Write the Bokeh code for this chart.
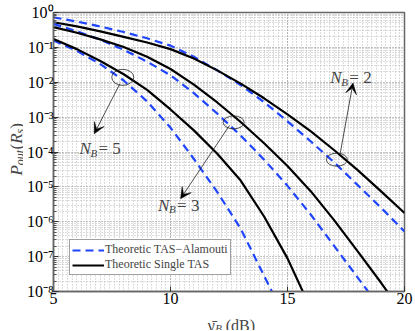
import math
from bokeh.plotting import figure
from bokeh.layouts import row, column
from bokeh.models import (Range1d, FixedTicker, Label, Arrow, VeeHead, Legend,
                          LegendItem, CustomJSTickFormatter)
from bokeh.embed import file_html
from bokeh.resources import INLINE

# ---------------- data ----------------
snr_db = [5, 6, 7, 8, 9, 10, 11, 12, 13, 14, 15, 16, 17, 18, 19, 20]

# log10 of outage probability
nb2_alamouti = [-0.14, -0.26, -0.40, -0.56, -0.74, -0.95, -1.27, -1.66, -2.08, -2.57, -3.12, -3.70, -4.30, -4.95, -5.60, -6.28]
nb2_single   = [-0.28, -0.40, -0.54, -0.70, -0.86, -1.05, -1.32, -1.66, -2.04, -2.46, -2.92, -3.41, -3.95, -4.52, -5.13, -5.75]
nb3_alamouti = [-0.33, -0.54, -0.78, -1.07, -1.41, -1.80, -2.31, -2.90, -3.53, -4.22, -4.97, -5.80, -6.70, -7.60, -8.50, -9.50]
nb3_single   = [-0.42, -0.58, -0.77, -0.99, -1.27, -1.62, -2.07, -2.58, -3.14, -3.75, -4.40, -5.13, -5.96, -6.85, -7.75, -8.70]
nb5_alamouti = [-0.80, -1.10, -1.48, -1.95, -2.55, -3.30, -4.20, -5.15, -6.20, -7.55, -8.90, -10.3, -11.7, -13.1, -14.5, -16.0]
nb5_single   = [-0.76, -1.05, -1.39, -1.77, -2.22, -2.78, -3.38, -4.05, -4.82, -5.85, -7.05, -8.50, -10.0, -11.5, -13.0, -14.5]

x_ticks = [5, 10, 15, 20]
y_decades = [-8, -7, -6, -5, -4, -3, -2, -1, 0]
legend_labels = ["Theoretic TAS\u2212Alamouti", "Theoretic Single TAS"]

SERIF = "Liberation Serif"
BLUE = "#1f45ff"
AXIS_GRAY = "#666666"

# layout geometry (pixels)
TOTAL_H = 330
YSTRIP_W = 23
MAIN_W = 390
LEFT_B, RIGHT_B = 29, 9
TOP_B, FRAME_H, BOT_B = 12, 279, 19
MAIN_H = TOP_B + FRAME_H + BOT_B
XSTRIP_H = TOTAL_H - MAIN_H


def lin(vals):
    return [10.0 ** v for v in vals]


def bare(fig):
    fig.grid.visible = False
    fig.outline_line_color = None
    return fig


# ---------------- main plot ----------------
p = figure(width=MAIN_W, height=MAIN_H, x_range=Range1d(5, 20), y_range=Range1d(1e-8, 1),
           y_axis_type="log", output_backend="svg", toolbar_location=None, title=None,
           min_border_left=LEFT_B, min_border_right=RIGHT_B,
           min_border_top=TOP_B, min_border_bottom=BOT_B)

p.outline_line_color = AXIS_GRAY
p.outline_line_width = 1.5

minor_x = [5 + 0.2 * i for i in range(76)]
p.xaxis.ticker = FixedTicker(ticks=x_ticks, minor_ticks=minor_x)
minor_y = [k * 10.0 ** d for d in y_decades[:-1] for k in range(2, 10)]
p.yaxis.ticker = FixedTicker(ticks=[10.0 ** d for d in y_decades], minor_ticks=minor_y)
p.yaxis.formatter = CustomJSTickFormatter(code="""
const sup = {'-':'\u207b','0':'\u2070','1':'\u00b9','2':'\u00b2','3':'\u00b3','4':'\u2074',
             '5':'\u2075','6':'\u2076','7':'\u2077','8':'\u2078','9':'\u2079'};
const e = Math.round(Math.log10(tick));
return '10' + String(e).split('').map(c => sup[c]).join('');
""")

for ax in (p.xaxis[0], p.yaxis[0]):
    ax.axis_label = None
    ax.axis_line_color = AXIS_GRAY
    ax.axis_line_width = 1.5
    ax.major_tick_in = 5
    ax.major_tick_out = 0
    ax.minor_tick_in = 0
    ax.minor_tick_out = 0
    ax.major_tick_line_color = "#333333"
    ax.major_label_text_font = SERIF
    ax.major_label_text_font_size = "16px"
    ax.major_label_text_color = "black"
p.yaxis.minor_tick_in = 3
p.yaxis.minor_tick_line_color = "#555555"
p.xaxis.major_label_standoff = 1
p.yaxis.major_label_standoff = 0

for g in (p.xgrid[0], p.ygrid[0]):
    g.grid_line_color = "#8a8a8a"
    g.grid_line_dash = "1 2"
    g.grid_line_width = 1
    g.minor_grid_line_color = "#b8b8b8"
    g.minor_grid_line_dash = "1 2"
    g.minor_grid_line_width = 1

dash_style = dict(line_color=BLUE, line_width=2.2, line_dash="8 5")
solid_style = dict(line_color="black", line_width=2.2)
r_a2 = p.line(snr_db, lin(nb2_alamouti), **dash_style)
r_s2 = p.line(snr_db, lin(nb2_single), **solid_style)
p.line(snr_db, lin(nb3_alamouti), **dash_style)
p.line(snr_db, lin(nb3_single), **solid_style)
p.line(snr_db, lin(nb5_alamouti), **dash_style)
p.line(snr_db, lin(nb5_single), **solid_style)

# ellipses marking curve pairs
p.ellipse(x=[7.96, 12.70, 17.11], y=[10 ** -1.86, 10 ** -3.15, 10 ** -4.22],
          width=[22, 21, 21], height=[16, 13, 13], width_units="screen", height_units="screen",
          fill_color=None, line_color="#222222", line_width=0.8)

# arrows
for xs, ys, xe, ye in [(7.83, -2.05, 6.74, -3.48), (12.52, -3.24, 10.43, -5.34),
                       (17.25, -4.05, 17.80, -2.02)]:
    p.add_layout(Arrow(x_start=xs, y_start=10 ** ys, x_end=xe, y_end=10 ** ye,
                       line_width=0.8, line_color="#222222",
                       end=VeeHead(size=11, fill_color="black", line_color="black", line_width=0.5)))

# N_B labels
for xa, ya, k in [(6.106, -3.90, "5"), (9.468, -5.52, "3"), (16.83, -1.877, "2")]:
    p.add_layout(Label(x=xa, y=10 ** ya, text="N", text_font=SERIF, text_font_style="italic",
                       text_font_size="17px", text_baseline="alphabetic", text_align="left"))
    p.add_layout(Label(x=xa, y=10 ** ya, x_offset=11, y_offset=-4, text="B", text_font=SERIF,
                       text_font_style="italic", text_font_size="11px",
                       text_baseline="alphabetic", text_align="left"))
    p.add_layout(Label(x=xa, y=10 ** ya, x_offset=19, text="= " + k, text_font=SERIF,
                       text_font_size="17px", text_baseline="alphabetic", text_align="left"))

legend = Legend(items=[LegendItem(label=legend_labels[0], renderers=[r_a2]),
                       LegendItem(label=legend_labels[1], renderers=[r_s2])],
                location=(16, 16), orientation="vertical")
legend.label_text_font = SERIF
legend.label_text_font_size = "12px"
legend.label_height = 10
legend.glyph_height = 10
legend.glyph_width = 32
legend.label_standoff = 1
legend.spacing = 0
legend.padding = 2
legend.margin = 0
legend.border_line_color = "#444444"
legend.border_line_width = 1
legend.background_fill_alpha = 1.0
p.add_layout(legend)

# ---------------- x axis title strip ----------------
px = bare(figure(width=MAIN_W, height=XSTRIP_H, x_range=p.x_range, y_range=Range1d(0, XSTRIP_H),
                 output_backend="svg", toolbar_location=None, title=None,
                 x_axis_location=None, y_axis_location=None,
                 min_border_left=LEFT_B, min_border_right=RIGHT_B,
                 min_border_top=0, min_border_bottom=0))
xt, yt = 11.59, 5
px.add_layout(Label(x=xt, y=yt, text="\u03b3\u0304", text_font=SERIF, text_font_size="16px",
                    text_baseline="alphabetic", text_align="left"))
px.add_layout(Label(x=xt, y=yt, x_offset=7.5, y_offset=-2, text="B", text_font=SERIF,
                    text_font_style="italic", text_font_size="11px",
                    text_baseline="alphabetic", text_align="left"))
px.add_layout(Label(x=xt, y=yt, x_offset=18, text="(dB)", text_font=SERIF, text_font_size="16px",
                    text_baseline="alphabetic", text_align="left"))

# ---------------- y axis title strip ----------------
py = bare(figure(width=YSTRIP_W, height=TOTAL_H, x_range=Range1d(0, YSTRIP_W), y_range=p.y_range,
                 y_axis_type="log", output_backend="svg", toolbar_location=None, title=None,
                 x_axis_location=None, y_axis_location=None,
                 min_border_left=0, min_border_right=0, min_border_top=TOP_B,
                 min_border_bottom=TOTAL_H - TOP_B - FRAME_H))
rot = math.pi / 2
yx, yy = 16, 10 ** -3.93
pieces = [("P", "italic", "17px", 0, -26), ("out", "italic", "12px", 3, -15.6),
          ("(", "normal", "17px", 0, 0), ("R", "italic", "17px", 0, 5.7),
          ("s", "italic", "12px", 3, 16.1), (")", "normal", "17px", 0, 20.8)]
for txt, style, size, dx, dy in pieces:
    py.add_layout(Label(x=yx, y=yy, x_offset=dx, y_offset=dy, text=txt, angle=rot,
                        text_font=SERIF, text_font_style=style, text_font_size=size,
                        text_baseline="alphabetic", text_align="left"))

layout = row(py, column(p, px, spacing=0), spacing=0)

open("out.html", "w").write(file_html(layout, INLINE))
